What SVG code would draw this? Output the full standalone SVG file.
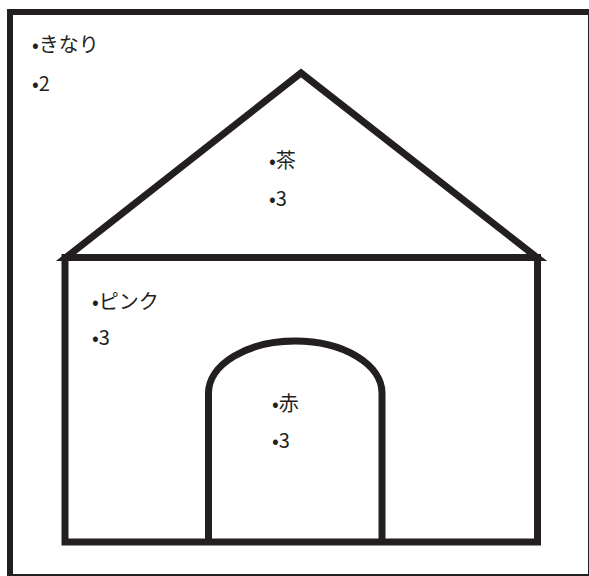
<svg xmlns="http://www.w3.org/2000/svg" width="589" height="576" viewBox="0 0 589 576">
<style>
.ln{fill:none;stroke:#231f20;stroke-width:7;stroke-linejoin:miter;stroke-miterlimit:10}
.t{font-family:"Noto Sans CJK JP","Noto Sans",sans-serif;font-size:20px;fill:#231f20}
</style>
<rect width="589" height="576" fill="#fff"/>
<g id="frame">
<rect x="10" y="12" width="581" height="565" fill="none" stroke="#231f20" stroke-width="6"/>
<text class="t" x="32" y="52">•きなり</text>
<text class="t" x="32" y="91">•2</text>
</g>
<g id="roof">
<polygon class="ln" points="66,257.5 301,73 537,257.5"/>
<text class="t" x="269" y="168">•茶</text>
<text class="t" x="269" y="206">•3</text>
</g>
<g id="wall">
<rect class="ln" x="65" y="257.5" width="472.5" height="284.5"/>
<text class="t" x="92" y="309">•ピンク</text>
<text class="t" x="92" y="345">•3</text>
</g>
<g id="door">
<path class="ln" d="M208.5,542 V393 A86.75,52 0 0 1 382,393 V542"/>
<text class="t" x="272" y="411">•赤</text>
<text class="t" x="272" y="448">•3</text>
</g>
</svg>
